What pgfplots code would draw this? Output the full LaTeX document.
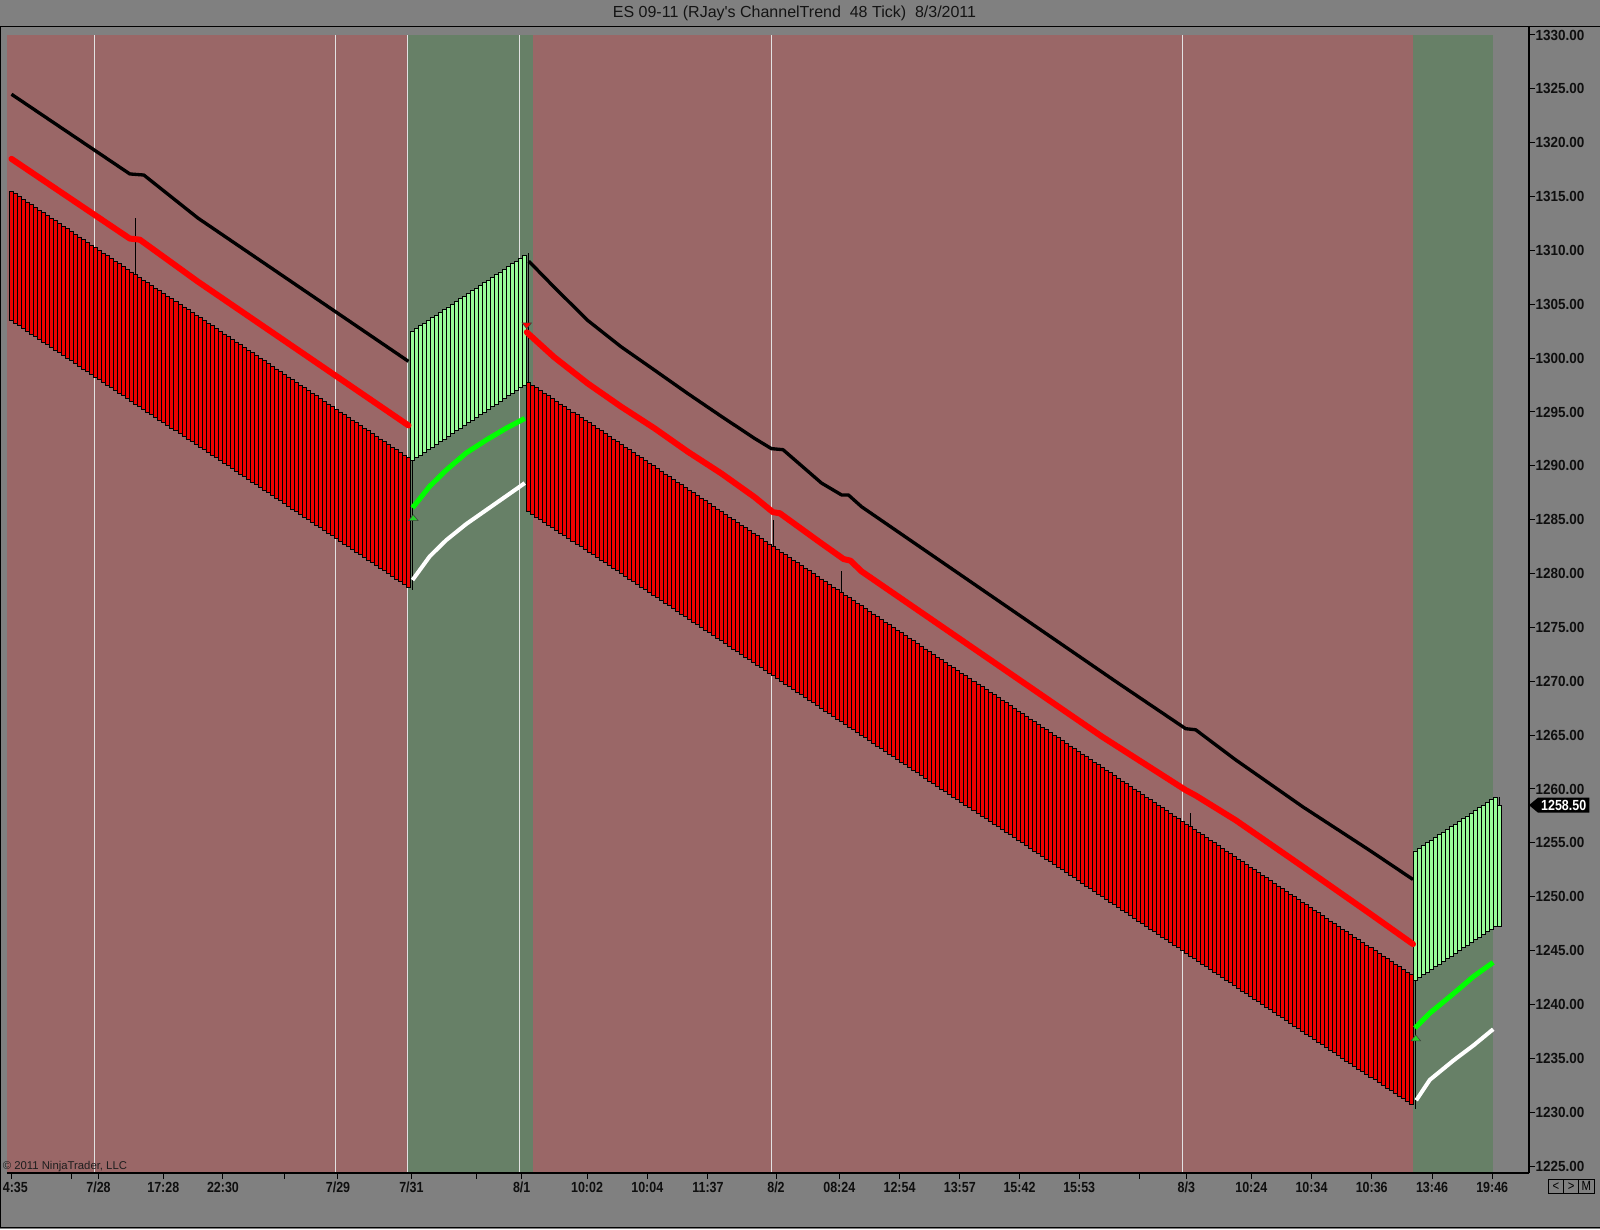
\documentclass[border=0pt]{standalone}
\usepackage{fontspec}
\setmainfont{Liberation Sans}
\newfontfamily\tickfont[FakeStretch=0.85]{Liberation Sans}
\newfontfamily\yfont[FakeStretch=0.92]{Liberation Sans}
\usepackage{pgfplots}
\pgfplotsset{compat=1.18}
\usepackage{pgfplotstable}

\definecolor{bg}{RGB}{128,128,128}
\definecolor{zred}{RGB}{154,103,103}
\definecolor{zgreen}{RGB}{103,128,103}
\definecolor{barred}{RGB}{238,0,0}
\definecolor{bargreen}{RGB}{152,251,152}
\definecolor{sepc}{RGB}{226,226,226}
\definecolor{lime}{RGB}{0,255,0}
\definecolor{trigreen}{RGB}{40,210,40}

% bars: index, low, red body height, green body height (48-tick bars = 12 points)
\pgfplotstableread[row sep=\\]{
i lo r g\\
0 1303.5 12 0\\ 1 1303.25 12 0\\ 2 1303 12 0\\ 3 1302.75 12 0\\ 4 1302.5 12 0\\ 5 1302.25 12 0\\ 6 1302 12 0\\ 7 1301.75 12 0\\
8 1301.5 12 0\\ 9 1301.25 12 0\\ 10 1301 12 0\\ 11 1300.75 12 0\\ 12 1300.5 12 0\\ 13 1300.25 12 0\\ 14 1300 12 0\\ 15 1299.75 12 0\\
16 1299.5 12 0\\ 17 1299.25 12 0\\ 18 1299 12 0\\ 19 1298.75 12 0\\ 20 1298.5 12 0\\ 21 1298.25 12 0\\ 22 1298 12 0\\ 23 1297.75 12 0\\
24 1297.5 12 0\\ 25 1297.25 12 0\\ 26 1297 12 0\\ 27 1296.75 12 0\\ 28 1296.5 12 0\\ 29 1296.25 12 0\\ 30 1296 12 0\\ 31 1295.75 12 0\\
32 1295.5 12 0\\ 33 1295.25 12 0\\ 34 1295 12 0\\ 35 1294.75 12 0\\ 36 1294.5 12 0\\ 37 1294.25 12 0\\ 38 1294 12 0\\ 39 1293.75 12 0\\
40 1293.5 12 0\\ 41 1293.25 12 0\\ 42 1293 12 0\\ 43 1292.75 12 0\\ 44 1292.5 12 0\\ 45 1292.25 12 0\\ 46 1292 12 0\\ 47 1291.75 12 0\\
48 1291.5 12 0\\ 49 1291.25 12 0\\ 50 1291 12 0\\ 51 1290.75 12 0\\ 52 1290.5 12 0\\ 53 1290.25 12 0\\ 54 1290 12 0\\ 55 1289.75 12 0\\
56 1289.5 12 0\\ 57 1289.25 12 0\\ 58 1289 12 0\\ 59 1288.75 12 0\\ 60 1288.5 12 0\\ 61 1288.25 12 0\\ 62 1288 12 0\\ 63 1287.75 12 0\\
64 1287.5 12 0\\ 65 1287.25 12 0\\ 66 1287 12 0\\ 67 1286.75 12 0\\ 68 1286.5 12 0\\ 69 1286.25 12 0\\ 70 1286 12 0\\ 71 1285.75 12 0\\
72 1285.5 12 0\\ 73 1285.25 12 0\\ 74 1285 12 0\\ 75 1284.75 12 0\\ 76 1284.5 12 0\\ 77 1284.25 12 0\\ 78 1284 12 0\\ 79 1283.75 12 0\\
80 1283.5 12 0\\ 81 1283.25 12 0\\ 82 1283 12 0\\ 83 1282.75 12 0\\ 84 1282.5 12 0\\ 85 1282.25 12 0\\ 86 1282 12 0\\ 87 1281.75 12 0\\
88 1281.5 12 0\\ 89 1281.25 12 0\\ 90 1281 12 0\\ 91 1280.75 12 0\\ 92 1280.5 12 0\\ 93 1280.25 12 0\\ 94 1280 12 0\\ 95 1279.75 12 0\\
96 1279.5 12 0\\ 97 1279.25 12 0\\ 98 1279 12 0\\ 99 1278.75 12 0\\
100 1290.5 0 12\\ 101 1290.75 0 12\\ 102 1291 0 12\\ 103 1291.25 0 12\\ 104 1291.5 0 12\\ 105 1291.75 0 12\\ 106 1292 0 12\\ 107 1292.25 0 12\\
108 1292.5 0 12\\ 109 1292.75 0 12\\ 110 1293 0 12\\ 111 1293.25 0 12\\ 112 1293.5 0 12\\ 113 1293.75 0 12\\ 114 1294 0 12\\ 115 1294.25 0 12\\
116 1294.5 0 12\\ 117 1294.75 0 12\\ 118 1295 0 12\\ 119 1295.25 0 12\\ 120 1295.5 0 12\\ 121 1295.75 0 12\\ 122 1296 0 12\\ 123 1296.25 0 12\\
124 1296.5 0 12\\ 125 1296.75 0 12\\ 126 1297 0 12\\ 127 1297.25 0 12\\ 128 1297.5 0 12\\
129 1285.75 12 0\\ 130 1285.5 12 0\\ 131 1285.25 12 0\\ 132 1285 12 0\\ 133 1284.75 12 0\\ 134 1284.5 12 0\\ 135 1284.25 12 0\\ 136 1284 12 0\\
137 1283.75 12 0\\ 138 1283.5 12 0\\ 139 1283.25 12 0\\ 140 1283 12 0\\ 141 1282.75 12 0\\ 142 1282.5 12 0\\ 143 1282.25 12 0\\ 144 1282 12 0\\
145 1281.75 12 0\\ 146 1281.5 12 0\\ 147 1281.25 12 0\\ 148 1281 12 0\\ 149 1280.75 12 0\\ 150 1280.5 12 0\\ 151 1280.25 12 0\\ 152 1280 12 0\\
153 1279.75 12 0\\ 154 1279.5 12 0\\ 155 1279.25 12 0\\ 156 1279 12 0\\ 157 1278.75 12 0\\ 158 1278.5 12 0\\ 159 1278.25 12 0\\ 160 1278 12 0\\
161 1277.75 12 0\\ 162 1277.5 12 0\\ 163 1277.25 12 0\\ 164 1277 12 0\\ 165 1276.75 12 0\\ 166 1276.5 12 0\\ 167 1276.25 12 0\\ 168 1276 12 0\\
169 1275.75 12 0\\ 170 1275.5 12 0\\ 171 1275.25 12 0\\ 172 1275 12 0\\ 173 1274.75 12 0\\ 174 1274.5 12 0\\ 175 1274.25 12 0\\ 176 1274 12 0\\
177 1273.75 12 0\\ 178 1273.5 12 0\\ 179 1273.25 12 0\\ 180 1273 12 0\\ 181 1272.75 12 0\\ 182 1272.5 12 0\\ 183 1272.25 12 0\\ 184 1272 12 0\\
185 1271.75 12 0\\ 186 1271.5 12 0\\ 187 1271.25 12 0\\ 188 1271 12 0\\ 189 1270.75 12 0\\ 190 1270.5 12 0\\ 191 1270.25 12 0\\ 192 1270 12 0\\
193 1269.75 12 0\\ 194 1269.5 12 0\\ 195 1269.25 12 0\\ 196 1269 12 0\\ 197 1268.75 12 0\\ 198 1268.5 12 0\\ 199 1268.25 12 0\\ 200 1268 12 0\\
201 1267.75 12 0\\ 202 1267.5 12 0\\ 203 1267.25 12 0\\ 204 1267 12 0\\ 205 1266.75 12 0\\ 206 1266.5 12 0\\ 207 1266.25 12 0\\ 208 1266 12 0\\
209 1265.75 12 0\\ 210 1265.5 12 0\\ 211 1265.25 12 0\\ 212 1265 12 0\\ 213 1264.75 12 0\\ 214 1264.5 12 0\\ 215 1264.25 12 0\\ 216 1264 12 0\\
217 1263.75 12 0\\ 218 1263.5 12 0\\ 219 1263.25 12 0\\ 220 1263 12 0\\ 221 1262.75 12 0\\ 222 1262.5 12 0\\ 223 1262.25 12 0\\ 224 1262 12 0\\
225 1261.75 12 0\\ 226 1261.5 12 0\\ 227 1261.25 12 0\\ 228 1261 12 0\\ 229 1260.75 12 0\\ 230 1260.5 12 0\\ 231 1260.25 12 0\\ 232 1260 12 0\\
233 1259.75 12 0\\ 234 1259.5 12 0\\ 235 1259.25 12 0\\ 236 1259 12 0\\ 237 1258.75 12 0\\ 238 1258.5 12 0\\ 239 1258.25 12 0\\ 240 1258 12 0\\
241 1257.75 12 0\\ 242 1257.5 12 0\\ 243 1257.25 12 0\\ 244 1257 12 0\\ 245 1256.75 12 0\\ 246 1256.5 12 0\\ 247 1256.25 12 0\\ 248 1256 12 0\\
249 1255.75 12 0\\ 250 1255.5 12 0\\ 251 1255.25 12 0\\ 252 1255 12 0\\ 253 1254.75 12 0\\ 254 1254.5 12 0\\ 255 1254.25 12 0\\ 256 1254 12 0\\
257 1253.75 12 0\\ 258 1253.5 12 0\\ 259 1253.25 12 0\\ 260 1253 12 0\\ 261 1252.75 12 0\\ 262 1252.5 12 0\\ 263 1252.25 12 0\\ 264 1252 12 0\\
265 1251.75 12 0\\ 266 1251.5 12 0\\ 267 1251.25 12 0\\ 268 1251 12 0\\ 269 1250.75 12 0\\ 270 1250.5 12 0\\ 271 1250.25 12 0\\ 272 1250 12 0\\
273 1249.75 12 0\\ 274 1249.5 12 0\\ 275 1249.25 12 0\\ 276 1249 12 0\\ 277 1248.75 12 0\\ 278 1248.5 12 0\\ 279 1248.25 12 0\\ 280 1248 12 0\\
281 1247.75 12 0\\ 282 1247.5 12 0\\ 283 1247.25 12 0\\ 284 1247 12 0\\ 285 1246.75 12 0\\ 286 1246.5 12 0\\ 287 1246.25 12 0\\ 288 1246 12 0\\
289 1245.75 12 0\\ 290 1245.5 12 0\\ 291 1245.25 12 0\\ 292 1245 12 0\\ 293 1244.75 12 0\\ 294 1244.5 12 0\\ 295 1244.25 12 0\\ 296 1244 12 0\\
297 1243.75 12 0\\ 298 1243.5 12 0\\ 299 1243.25 12 0\\ 300 1243 12 0\\ 301 1242.75 12 0\\ 302 1242.5 12 0\\ 303 1242.25 12 0\\ 304 1242 12 0\\
305 1241.75 12 0\\ 306 1241.5 12 0\\ 307 1241.25 12 0\\ 308 1241 12 0\\ 309 1240.75 12 0\\ 310 1240.5 12 0\\ 311 1240.25 12 0\\ 312 1240 12 0\\
313 1239.75 12 0\\ 314 1239.5 12 0\\ 315 1239.25 12 0\\ 316 1239 12 0\\ 317 1238.75 12 0\\ 318 1238.5 12 0\\ 319 1238.25 12 0\\ 320 1238 12 0\\
321 1237.75 12 0\\ 322 1237.5 12 0\\ 323 1237.25 12 0\\ 324 1237 12 0\\ 325 1236.75 12 0\\ 326 1236.5 12 0\\ 327 1236.25 12 0\\ 328 1236 12 0\\
329 1235.75 12 0\\ 330 1235.5 12 0\\ 331 1235.25 12 0\\ 332 1235 12 0\\ 333 1234.75 12 0\\ 334 1234.5 12 0\\ 335 1234.25 12 0\\ 336 1234 12 0\\
337 1233.75 12 0\\ 338 1233.5 12 0\\ 339 1233.25 12 0\\ 340 1233 12 0\\ 341 1232.75 12 0\\ 342 1232.5 12 0\\ 343 1232.25 12 0\\ 344 1232 12 0\\
345 1231.75 12 0\\ 346 1231.5 12 0\\ 347 1231.25 12 0\\ 348 1231 12 0\\ 349 1230.75 12 0\\
350 1242.25 0 12\\ 351 1242.5 0 12\\ 352 1242.75 0 12\\ 353 1243 0 12\\ 354 1243.25 0 12\\ 355 1243.5 0 12\\ 356 1243.75 0 12\\ 357 1244 0 12\\
358 1244.25 0 12\\ 359 1244.5 0 12\\ 360 1244.75 0 12\\ 361 1245 0 12\\ 362 1245.25 0 12\\ 363 1245.5 0 12\\ 364 1245.75 0 12\\ 365 1246 0 12\\
366 1246.25 0 12\\ 367 1246.5 0 12\\ 368 1246.75 0 12\\ 369 1247 0 12\\ 370 1247.25 0 12\\ 371 1247.25 0 11.25\\
}\bars

\pgfplotsset{chartaxis/.style={scale only axis, width=1141.5pt, height=859.5pt,
  xmin=-1.12, xmax=378.43, ymin=1224.35, ymax=1330.743,
  at={(5.25pt,42pt)}, anchor=south west}}

\begin{document}
\begin{tikzpicture}
\fill[bg] (0,0) rectangle (1200pt,921.75pt);

% ---- background zones and day separators
\begin{axis}[chartaxis, hide axis, unbounded coords=jump]
\addplot[draw=none, fill=zred] coordinates {(-1.12,1224.35) (-1.12,1330) (98.8,1330) (98.8,1224.35)} -- cycle;
\addplot[draw=none, fill=zgreen] coordinates {(98.8,1224.35) (98.8,1330) (130.0,1330) (130.0,1224.35)} -- cycle;
\addplot[draw=none, fill=zred] coordinates {(130.0,1224.35) (130.0,1330) (349.5,1330) (349.5,1224.35)} -- cycle;
\addplot[draw=none, fill=zgreen] coordinates {(349.5,1224.35) (349.5,1330) (369.45,1330) (369.45,1224.35)} -- cycle;
\addplot[sepc, line width=0.7pt] coordinates {
(20.8,1224.35) (20.8,1330) (20.8,nan)
(80.85,1224.35) (80.85,1330) (80.85,nan)
(98.8,1224.35) (98.8,1330) (98.8,nan)
(126.66,1224.35) (126.66,1330) (126.66,nan)
(189.5,1224.35) (189.5,1330) (189.5,nan)
(292.07,1224.35) (292.07,1330)};
\end{axis}

% ---- bars
\begin{axis}[chartaxis, hide axis, ybar stacked, bar width=1]
\addplot[draw=none, fill=none] table[x=i, y=lo] {\bars};
\addplot[draw=black, line width=0.6pt, fill=barred] table[x=i, y=r] {\bars};
\addplot[draw=black, line width=0.6pt, fill=bargreen] table[x=i, y=g] {\bars};
\end{axis}

% ---- indicator lines, axes
\begin{axis}[chartaxis, clip=false, unbounded coords=jump,
  axis x line*=bottom, axis y line*=right,
  axis line style={black, line width=0.8pt},
  tick align=outside, major tick length=4.5pt,
  tick style={black, line width=0.75pt},
  xtick={0,14.96,21.7,37.86,52.74,68.03,81.42,99.73,115.91,127.23,143.52,158.55,173.69,190.65,206.43,221.45,236.48,251.37,266.26,281.3,292.99,309.18,324.19,339.2,354.24,369.25},
  xticklabels={\makebox[0pt][l]{\hspace*{-6.5pt}4:35},{},7/28,17:28,22:30,{},7/29,7/31,{},8/1,10:02,10:04,11:37,8/2,08:24,12:54,13:57,15:42,15:53,{},8/3,10:24,10:34,10:36,13:46,19:46},
  ytick={1225,1230,1235,1240,1245,1250,1255,1260,1265,1270,1275,1280,1285,1290,1295,1300,1305,1310,1315,1320,1325,1330},
  yticklabels={1225.00,1230.00,1235.00,1240.00,1245.00,1250.00,1255.00,1260.00,1265.00,1270.00,1275.00,1280.00,1285.00,1290.00,1295.00,1300.00,1305.00,1310.00,1315.00,1320.00,1325.00,1330.00},
  xticklabel style={font=\tickfont\bfseries\fontsize{11}{13}\selectfont, text={rgb,255:red,15;green,15;blue,15}, inner sep=0pt, anchor=north, yshift=-2.2pt},
  yticklabel style={font=\yfont\bfseries\fontsize{11}{13}\selectfont, text={rgb,255:red,15;green,15;blue,15}, inner sep=0pt, anchor=west, xshift=0.3pt},
]
% wicks
\addplot[black, line width=0.7pt] coordinates {
(31,1307.75) (31,1313.0) (31,nan)
(100,1290.5) (100,1278.5) (100,nan)
(129,1297.75) (129,1309.75) (129,nan)
(190,1282.5) (190,1285.0) (190,nan)
(207,1278.25) (207,1280.2) (207,nan)
(294,1256.5) (294,1257.8) (294,nan)
(350,1242.25) (350,1230.25) (350,nan)
(371,1258.5) (371,1259.25)};
% upper channel (black)
\addplot[black, line width=2.5pt, line join=round] coordinates {
(0,1324.5) (29.5,1317.1) (33,1317.0) (46.5,1313.0) (99,1299.7)};
\addplot[black, line width=2.5pt, line join=round] coordinates {
(129,1309.0) (135.3,1306.6) (143.7,1303.5) (152,1301.06) (160.3,1298.9) (168.7,1296.7) (177,1294.6)
(185.3,1292.55) (189.5,1291.6) (192.4,1291.5) (202,1288.4) (207,1287.3) (208.7,1287.3) (212,1286.2)
(275.3,1270.0) (292.8,1265.6) (295.3,1265.5) (305.3,1262.7) (322,1258.35) (338.7,1254.3) (349.5,1251.6)};
% mid line, down trend (red)
\addplot[red, line width=4.5pt, line join=round, line cap=round] coordinates {
(0,1318.5) (29.5,1311.1) (32,1311.0) (46.5,1307.1) (99,1293.75)};
\addplot[red, line width=4.5pt, line join=round, line cap=round] coordinates {
(128.5,1302.4) (135.3,1300.1) (143.7,1297.65) (152,1295.5) (160.3,1293.5) (168.7,1291.3) (177,1289.3)
(185.3,1287.1) (189.9,1285.7) (191.6,1285.6) (202,1282.8) (207.5,1281.35) (209.2,1281.2) (212,1280.2)
(272,1264.85) (292.8,1259.9) (295.3,1259.4) (305.3,1257.1) (322,1252.8) (338.7,1248.45) (349.5,1245.6)};
% mid line, up trend (green)
\addplot[lime, line width=3.8pt, line join=round] coordinates {
(100,1286.1) (104.3,1288.1) (108.4,1289.6) (113.4,1291.2) (118.4,1292.4) (123.4,1293.5) (128,1294.4)};
\addplot[lime, line width=3.8pt, line join=round] coordinates {
(350,1237.8) (353.7,1239.2) (359.6,1241.0) (364.6,1242.6) (369.5,1243.9)};
% lower channel (white)
\addplot[white, line width=3pt, line join=round] coordinates {
(100,1279.4) (104.3,1281.6) (108.4,1283.1) (113.4,1284.6) (118.4,1285.9) (123.4,1287.2) (128,1288.4)};
\addplot[white, line width=3pt, line join=round] coordinates {
(350.3,1231.1) (353.7,1233.0) (359.6,1234.8) (364.6,1236.2) (369.5,1237.7)};
% trend change markers
\addplot[only marks, mark=triangle*, mark size=4.2pt, mark options={yscale=0.7, fill=trigreen, draw=black!75, line width=0.4pt}] coordinates {(100.2,1285.1) (350.2,1236.8)};
\addplot[only marks, mark=triangle*, mark size=4.2pt, mark options={rotate=180, yscale=0.7, fill=red, draw=black!75, line width=0.4pt}] coordinates {(128.5,1303.1)};
% last price tag
\fill[black] (axis cs:378.43,1258.5) -- ++(6.75pt,5.625pt) -- ++(38.5pt,0pt) -- ++(0pt,-11.25pt) -- ++(-38.5pt,0pt) -- cycle;
\node[text=white, font=\tickfont\bfseries\fontsize{11}{13}\selectfont, inner sep=0pt] at ([xshift=26pt]axis cs:378.43,1258.5) {1258.50};
\end{axis}

% ---- frame, title, notes
\draw[black, line width=0.75pt] (0,901.5pt) -- (1200pt,901.5pt);
\draw[black, line width=0.75pt] (0,1pt) -- (1200pt,1pt);
\draw[black, line width=0.75pt] (0.4pt,1pt) -- (0.4pt,901.5pt);
\node[font=\fontsize{12}{14}\selectfont, text={rgb,255:red,20;green,20;blue,20}, inner sep=0pt] at (595.9pt,911.8pt) {ES 09-11 (RJay\textquotesingle s ChannelTrend\ \ 48 Tick)\ \ 8/3/2011};
\node[font=\fontsize{8.5}{10}\selectfont, text={rgb,255:red,30;green,30;blue,30}, anchor=west, inner sep=0pt] at (1.9pt,46.7pt) {© 2011 NinjaTrader, LLC};
\draw[black, line width=0.75pt] (1161.2pt,26.8pt) rectangle (1195.5pt,37.3pt);
\draw[black, line width=0.75pt] (1172.5pt,26.8pt) -- (1172.5pt,37.3pt) (1184pt,26.8pt) -- (1184pt,37.3pt);
\node[font=\tickfont\fontsize{10}{11}\selectfont, inner sep=0pt] at (1166.9pt,32pt) {<};
\node[font=\tickfont\fontsize{10}{11}\selectfont, inner sep=0pt] at (1178.3pt,32pt) {>};
\node[font=\tickfont\fontsize{10}{11}\selectfont, inner sep=0pt] at (1189.8pt,32pt) {M};
\pgfresetboundingbox
\path[use as bounding box] (0,0) rectangle (1200pt,921.75pt);
\end{tikzpicture}
\end{document}
